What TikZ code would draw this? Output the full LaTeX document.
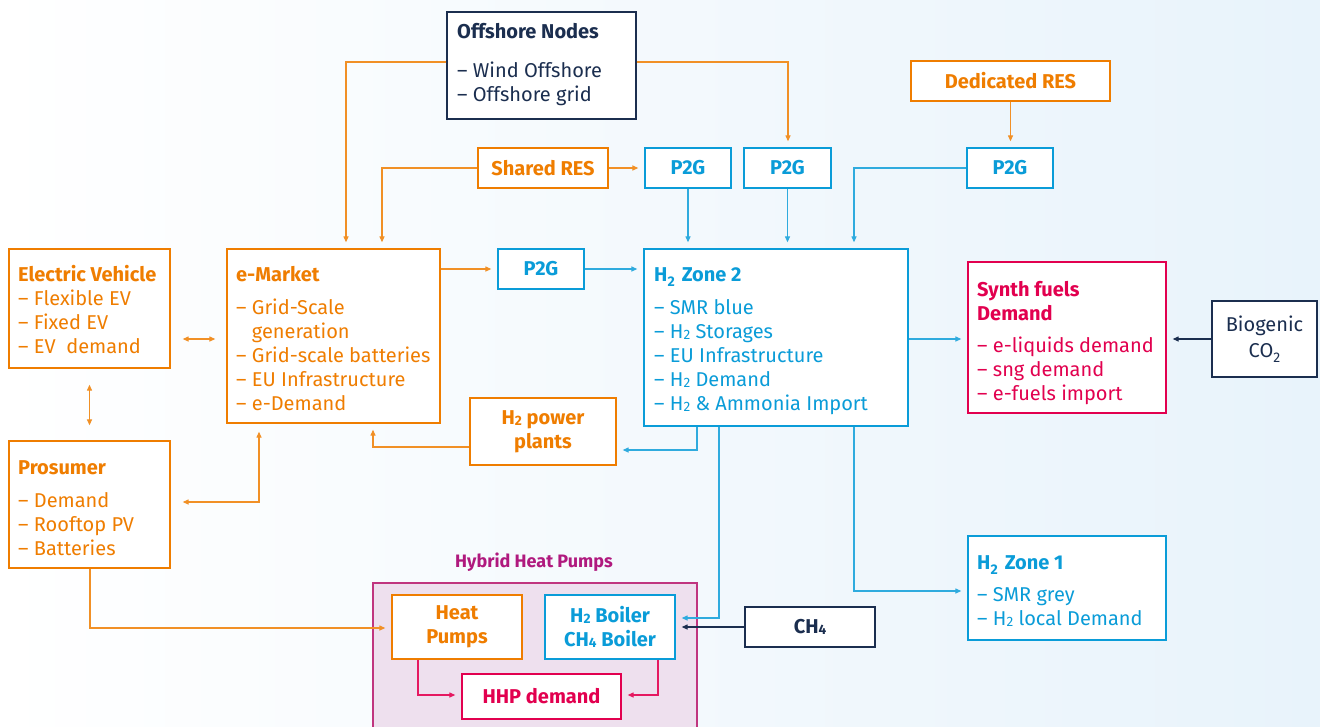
\documentclass[tikz,border=0pt]{standalone}
\usepackage{fontspec}
\setmainfont{Fira Sans}
\usepackage{graphicx}
\usetikzlibrary{arrows.meta}
\definecolor{cor}{HTML}{EF7D00}
\definecolor{cbl}{HTML}{0A9CD8}
\definecolor{cnv}{HTML}{1B2E4F}
\definecolor{ccr}{HTML}{E2004F}
\definecolor{cmg}{HTML}{B0197E}
\definecolor{cmgb}{HTML}{C0357F}
\definecolor{cmgf}{HTML}{EEE0EE}
\definecolor{cbg}{HTML}{E8F3FB}
\newcommand\dn[1]{\raisebox{-0.08em}{\scalebox{0.68}{#1}}}
\newcommand\sbt[1]{\raisebox{-0.25em}{\scalebox{0.7}{#1}}}
\newcommand\lines[1]{\vtop{\baselineskip=24pt\lineskiplimit=-30pt\lineskip=0pt #1}}
\newcommand\li[1]{\hbox{#1}}
\newcommand\bx[7]{\node[#2, minimum width={(#5-#3)*1pt}, minimum height={(#6-#4)*1pt}] (#1) at ({(#3+#5)/2},{(#4+#6)/2}) {#7};}
\tikzset{
  boxo/.style={draw=cor, fill=white, line width=1.3pt, inner sep=0pt, text=cor, font=\fontsize{20}{24}\selectfont\bfseries, align=center},
  boxb/.style={boxo, draw=cbl, text=cbl},
  boxn/.style={boxo, draw=cnv, text=cnv},
  boxr/.style={boxo, draw=ccr, text=ccr},
  txt/.style={anchor=base west, inner sep=0pt},
  tip/.style={-{Triangle[length=6pt,width=5pt]}, shorten >=6pt},
  lo/.style={tip, draw=cor!85, line width=1.2pt},
  lb/.style={tip, draw=cbl!85, line width=1.2pt},
  ln/.style={tip, draw=cnv, line width=1.2pt},
  lr/.style={tip, draw=ccr!90, line width=1.2pt},
}
\begin{document}
\begin{tikzpicture}[x=1pt,y=-1pt,font=\fontsize{20}{24}\selectfont]
\useasboundingbox (0,0) rectangle (1320,726);
\clip (0,0) rectangle (1320,726);
\shade[left color=white, right color=cbg] (0,0) rectangle (1320,726);

% container
\node[draw=cmgb, fill=cmgf, line width=1.2pt, minimum width=324pt, minimum height=160pt, inner sep=0pt] (hhpc) at (535,663) {};
\node[text=cmg, font=\fontsize{18}{20}\selectfont\bfseries, inner sep=0pt] (hhpl) at (534,562) {Hybrid Heat Pumps};

% boxes
\bx{off}{boxn}{447}{12}{636}{119}{}
\bx{shr}{boxo}{478}{148}{608}{188}{Shared RES}
\bx{p2ga}{boxb}{645}{148}{731}{188}{P2G}
\bx{p2gb}{boxb}{744}{148}{831}{188}{P2G}
\bx{ded}{boxo}{911}{61}{1110}{101}{Dedicated RES}
\bx{p2gc}{boxb}{967}{148}{1053}{188}{P2G}
\bx{ev}{boxo}{9}{249}{170}{368}{}
\bx{emk}{boxo}{227}{249}{440}{423}{}
\bx{p2gd}{boxb}{498}{249}{584}{289}{P2G}
\bx{h2z2}{boxb}{644}{249}{908}{426}{}
\bx{syn}{boxr}{968}{262}{1166}{413}{}
\node[boxn, font=\fontsize{20}{26}\selectfont, minimum width=105pt, minimum height=76pt] (bio) at (1264.5,339) {Biogenic\\CO\sbt{2}};
\bx{h2pp}{boxo}{470}{398}{616}{465}{H\dn{2} power\\plants}
\bx{pro}{boxo}{9}{441}{170}{568}{}
\bx{hp}{boxo}{392}{595}{522}{659}{Heat\\Pumps}
\bx{boil}{boxb}{545}{595}{675}{659}{H\dn{2} Boiler\\CH\dn{4} Boiler}
\bx{hhp}{boxr}{462}{674}{621}{719}{HHP demand}
\bx{ch4}{boxn}{745}{607}{875}{647}{CH\dn{4}}
\bx{h2z1}{boxb}{968}{536}{1166}{640}{}

% box texts
\node[txt, text=cnv] (offt) at (457,38) {\lines{\li{\bfseries Offshore Nodes}\vskip15pt\li{– Wind Offshore}\li{– Offshore grid}}};
\node[txt, text=cor] (evt) at (18,281) {\lines{\li{\bfseries Electric Vehicle}\li{– Flexible EV}\li{– Fixed EV}\li{– EV\ \ demand}}};
\node[txt, text=cor] (emkt) at (236,281) {\lines{\li{\bfseries e-Market}\vskip9pt\li{– Grid-Scale}\li{\phantom{– }generation}\li{– Grid-scale batteries}\li{– EU Infrastructure}\li{– e-Demand}}};
\node[txt, text=cor] (prot) at (18,474) {\lines{\li{\bfseries Prosumer}\vskip9pt\li{– Demand}\li{– Rooftop PV}\li{– Batteries}}};
\node[txt, text=cbl] (h2z2t) at (654,281) {\lines{\li{\bfseries H\sbt{2}\hspace{7pt}Zone 2}\vskip9pt\li{– SMR blue}\li{– H\dn{2} Storages}\li{– EU Infrastructure}\li{– H\dn{2} Demand}\li{– H\dn{2} \& Ammonia Import}}};
\node[txt, text=ccr] (synt) at (977,296) {\lines{\li{\bfseries Synth fuels}\li{\bfseries Demand}\vskip8pt\li{– e-liquids demand}\li{– sng demand}\li{– e-fuels import}}};
\node[txt, text=cbl] (h2z1t) at (977,569) {\lines{\li{\bfseries H\sbt{2}\hspace{7pt}Zone 1}\vskip8pt\li{– SMR grey}\li{– H\dn{2} local Demand}}};

% bend coordinates
\coordinate (k1) at (346,62);
\coordinate (k2) at (788,62);
\coordinate (k3) at (382,168);
\coordinate (k8) at (854,168);
\coordinate (k11) at (200,339);
\coordinate (k13) at (259,502);
\coordinate (k14) at (373,447);
\coordinate (k15) at (697,450);
\coordinate (k16) at (719,618);
\coordinate (k17) at (854,591);
\coordinate (k18) at (930,339);
\coordinate (k21) at (90,628);
\coordinate (k22) at (418,695);
\coordinate (k23) at (658,695);

% connectors
\draw[lo] (off.west |- k1) -- (k1) -- (k1 |- emk.north);
\draw[lo] (off.east |- k2) -- (k2) -- (k2 |- p2gb.north);
\draw[lo] (shr.west) -- (k3) -- (k3 |- emk.north);
\draw[lo] (shr.east) -- (p2ga.west);
\draw[lo] (ded.south) -- (ded.south |- p2gc.north);
\draw[lb] (p2ga.south) -- (p2ga.south |- h2z2.north);
\draw[lb] (p2gb.south) -- (p2gb.south |- h2z2.north);
\draw[lb] (p2gc.west) -- (k8) -- (k8 |- h2z2.north);
\draw[lo] (emk.east |- p2gd.west) -- (p2gd.west);
\draw[lb] (p2gd.east) -- (p2gd.east -| h2z2.west);
\draw[lo, {Triangle[length=6pt,width=5pt]}-{Triangle[length=6pt,width=5pt]}, shorten <=12pt, shorten >=11pt] (ev.east |- k11) -- (emk.west |- k11);
\draw[lo, {Triangle[length=6pt,width=5pt]}-{Triangle[length=6pt,width=5pt]}, shorten <=16pt, shorten >=15pt] (ev.south) -- (ev.south |- pro.north);
\draw[lo, {Triangle[length=6pt,width=5pt]}-{Triangle[length=6pt,width=5pt]}, shorten <=12pt, shorten >=8pt] (pro.east |- k13) -- (k13) -- (k13 |- emk.south);
\draw[lo] (h2pp.west |- k14) -- (k14) -- (k14 |- emk.south);
\draw[lb] (k15 |- h2z2.south) -- (k15) -- (k15 -| h2pp.east);
\draw[lb] (k16 |- h2z2.south) -- (k16) -- (k16 -| boil.east);
\draw[lb] (k17 |- h2z2.south) -- (k17) -- (k17 -| h2z1.west);
\draw[lb] (h2z2.east |- k18) -- (syn.west |- k18);
\draw[ln] (bio.west) -- (bio.west -| syn.east);
\draw[ln] (ch4.west) -- (ch4.west -| boil.east);
\draw[lo] (pro.south -| k21) -- (k21) -- (k21 -| hp.west);
\draw[lr] (hp.south -| k22) -- (k22) -- (k22 -| hhp.west);
\draw[lr] (boil.south -| k23) -- (k23) -- (k23 -| hhp.east);
\end{tikzpicture}
\end{document}
